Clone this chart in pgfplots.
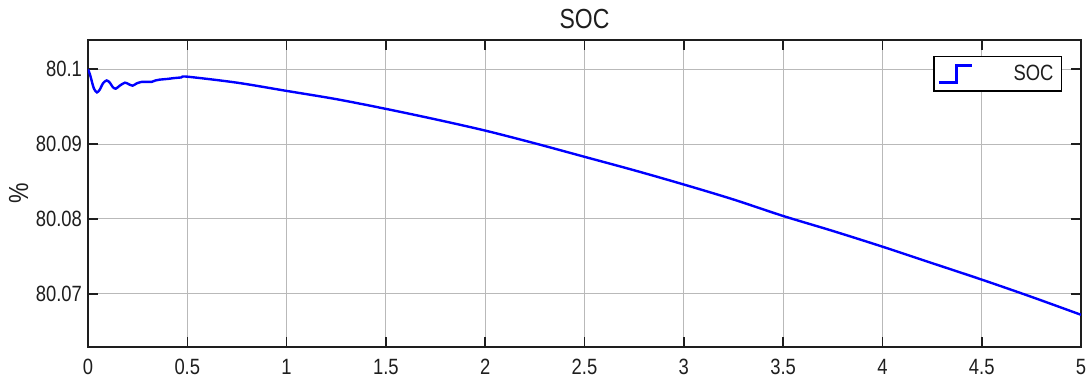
\documentclass[border=0pt]{standalone}
\usepackage{fontspec}
\setmainfont{Liberation Sans}
\usepackage{graphicx}
\usepackage{pgfplots}
\pgfplotsset{compat=1.18}
\definecolor{gridgray}{RGB}{185,185,185}
\definecolor{axgray}{RGB}{30,30,30}
\newcommand{\vs}[1]{\scalebox{1}[1.2]{#1}}
\begin{document}
\begin{tikzpicture}
\begin{axis}[
  scale only axis,
  width=496.5pt, height=153.5pt,
  xmin=0, xmax=5, ymin=80.0629, ymax=80.1039,
  xtick={0,0.5,...,5},
  ytick={80.07,80.08,80.09,80.1},
  yticklabels={\vs{80.07},\vs{80.08},\vs{80.09},\vs{80.1}},
  xticklabels={\vs{0},\vs{0.5},\vs{1},\vs{1.5},\vs{2},\vs{2.5},\vs{3},\vs{3.5},\vs{4},\vs{4.5},\vs{5}},
  grid=major,
  major grid style={gridgray, line width=0.5pt},
  axis line style={axgray, line width=0.8pt},
  tick style={axgray, line width=0.8pt},
  tick align=inside,
  major tick length=5pt,
  ticklabel style={font=\fontsize{9.2}{10}\selectfont, text=axgray},
  xticklabel style={yshift=-2.5pt},
  yticklabel style={xshift=0.5pt},
  title={\vs{SOC}},
  title style={font=\fontsize{11.5}{13}\selectfont, text=axgray, at={(0.5,1)}, anchor=south, yshift=-4pt},
  ylabel={\vs{\%}},
  ylabel style={font=\fontsize{11.5}{12}\selectfont, text=axgray, at={(-0.053,0.5)}, anchor=south},
  legend style={at={(1,1)}, anchor=north east, xshift=-9.5pt, yshift=-8pt,
    draw=black, line width=0.6pt, font=\fontsize{9.2}{10}\selectfont, text=axgray,
    inner xsep=2pt, inner ysep=2pt},
  legend cell align=right,
  legend image code/.code={
    \draw[#1, line width=1.3pt] (0pt,-4.25pt) -- (8.5pt,-4.25pt) -- (8.5pt,4.25pt) -- (16.5pt,4.25pt);
  },
]
\addplot[blue, line width=1.2pt, smooth, tension=0.5] coordinates {
(0,80.1000) (0.01,80.0993) (0.02,80.0983) (0.03,80.0974) (0.045,80.0969)
(0.06,80.0973) (0.075,80.0981) (0.094,80.0985) (0.11,80.0982) (0.125,80.0976)
(0.14,80.0974) (0.16,80.0978) (0.186,80.0982) (0.205,80.0980) (0.225,80.0978)
(0.245,80.0981) (0.27,80.0983) (0.3,80.0983) (0.32,80.0983) (0.34,80.0985)
(0.36,80.0986) (0.4,80.0987) (0.43,80.0988) (0.47,80.0989) (0.5,80.0990)
(0.75,80.0982) (1,80.0971) (1.25,80.0960) (1.5,80.0947) (1.75,80.0933)
(2,80.0918) (2.25,80.0901) (2.5,80.0883) (2.75,80.0865) (3,80.0846)
(3.25,80.0826) (3.5,80.0804) (3.75,80.0784) (4,80.0763) (4.25,80.0741)
(4.5,80.0719) (4.75,80.0696) (5,80.0672)
};
\addlegendentry{\hspace{18pt}\vs{SOC}}
\end{axis}
\pgfresetboundingbox
\path (-44pt,-15.5pt) rectangle (501.5pt,173.5pt);
\end{tikzpicture}
\end{document}
